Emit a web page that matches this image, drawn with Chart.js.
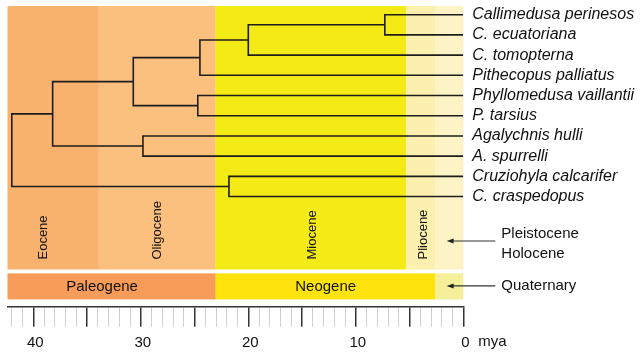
<!DOCTYPE html>
<html>
<head>
<meta charset="utf-8">
<script src="https://cdn.jsdelivr.net/npm/chart.js@4"></script>
<style>
html,body{margin:0;padding:0;background:#fff;}
#wrap{width:641px;height:354px;position:relative;}
</style>
</head>
<body>
<div id="wrap"><canvas id="c" width="641" height="354"></canvas></div>
<script>
// ---- data ----
const taxa = ['Callimedusa perinesos','C. ecuatoriana','C. tomopterna','Pithecopus palliatus','Phyllomedusa vaillantii','P. tarsius','Agalychnis hulli','A. spurrelli','Cruziohyla calcarifer','C. craspedopus'];
// internal nodes (ages in mya) and their two children: tN = taxon N, nN = node N
const nodeAges  = [7.3, 20.0, 24.5, 24.7, 30.7, 29.8, 38.2, 21.8, 42.0];
const nodeLeft  = ['t0','n0','n1','t4','n2','t6','n4','t8','n6'];
const nodeRight = ['t1','t2','t3','t5','n3','t7','n5','t9','n7'];
const epochNames  = ['Eocene','Oligocene','Miocene','Pliocene',''];
const epochStart  = [42.4, 33.9, 23.03, 5.33, 2.58];
const epochEnd    = [33.9, 23.03, 5.33, 2.58, 0];
const periodNames = ['Paleogene','Neogene',''];
const periodStart = [42.4, 23.03, 2.58];
const periodEnd   = [23.03, 2.58, 0];
const tickLabels  = [0, 10, 20, 30, 40];
const axisMax = 42.4;

// ---- styles / layout ----
const epochColors  = ['#F8B26E','#FBC07E','#F4EA16','#FDF0AE','#FEF3C4'];
const periodColors = ['#F89C5A','#FEE40C','#F4EF98'];
const epochLabelAt  = [39.1, 28.5, 14.0, 3.75];
const periodLabelAt = [33.6, 12.8];
const FONT = "'Liberation Sans', Arial, Helvetica, sans-serif";

// tree layout (y = leaf index)
const nodeY = [];
function posOf(id){ const k = +id.slice(1); return id[0]==='t' ? {x:0, y:k} : {x:nodeAges[k], y:nodeY[k]}; }
for (let i=0;i<nodeAges.length;i++){ nodeY[i] = (posOf(nodeLeft[i]).y + posOf(nodeRight[i]).y)/2; }
const datasets = nodeAges.map((age,i)=>{
  const L = posOf(nodeLeft[i]), R = posOf(nodeRight[i]);
  return {data:[{x:L.x,y:L.y},{x:age,y:L.y},{x:age,y:R.y},{x:R.x,y:R.y}],
    showLine:true, borderColor:'#1d1d1d', borderWidth:1.6, pointRadius:0, fill:false, tension:0};
});

const bgPlugin = {
  id:'bg',
  beforeDatasetsDraw(chart){
    const {ctx, scales:{x,y}} = chart;
    const eTop = y.getPixelForValue(-0.43), eBot = y.getPixelForValue(12.61);
    const pTop = y.getPixelForValue(12.80), pBot = y.getPixelForValue(14.09);
    ctx.save();
    epochStart.forEach((s,i)=>{
      const a = x.getPixelForValue(s), b = x.getPixelForValue(epochEnd[i]);
      ctx.fillStyle = epochColors[i]; ctx.fillRect(a, eTop, b-a, eBot-eTop);
    });
    periodStart.forEach((s,i)=>{
      const a = x.getPixelForValue(s), b = x.getPixelForValue(periodEnd[i]);
      ctx.fillStyle = periodColors[i]; ctx.fillRect(a, pTop, b-a, pBot-pTop);
    });
    ctx.fillStyle = '#111';
    ctx.font = '13px ' + FONT;
    ctx.textAlign = 'left'; ctx.textBaseline = 'middle';
    epochNames.forEach((n,i)=>{
      if(!n) return;
      ctx.save();
      ctx.translate(x.getPixelForValue(epochLabelAt[i]), eBot - 10);
      ctx.rotate(-Math.PI/2);
      ctx.fillText(n, 0, 0);
      ctx.restore();
    });
    ctx.font = '15px ' + FONT; ctx.textAlign = 'center';
    const pMid = (pTop+pBot)/2;
    periodNames.forEach((n,i)=>{ if(n) ctx.fillText(n, x.getPixelForValue(periodLabelAt[i]), pMid); });
    ctx.restore();
  },
  afterDatasetsDraw(chart){
    const {ctx, scales:{x,y}} = chart;
    const x0 = x.getPixelForValue(0);
    ctx.save();
    ctx.fillStyle = '#111';
    ctx.font = 'italic 16px ' + FONT;
    ctx.textAlign = 'left'; ctx.textBaseline = 'middle';
    taxa.forEach((t,i)=> ctx.fillText(t, x0 + 9, y.getPixelForValue(i)));
    // annotations
    ctx.font = '15px ' + FONT;
    const tip = x.getPixelForValue(1.55);
    const arrows = [[y.getPixelForValue(11.2)], [y.getPixelForValue(13.42)]];
    arrows.forEach(([ay])=>{
      ctx.strokeStyle = '#333'; ctx.lineWidth = 1.2;
      ctx.beginPath(); ctx.moveTo(tip+5, ay); ctx.lineTo(x0+32, ay); ctx.stroke();
      ctx.fillStyle = '#222';
      ctx.beginPath(); ctx.moveTo(tip, ay); ctx.lineTo(tip+7, ay-2.5); ctx.lineTo(tip+7, ay+2.5); ctx.closePath(); ctx.fill();
    });
    ctx.fillStyle = '#111';
    ctx.fillText('Pleistocene', x0+38, y.getPixelForValue(10.85));
    ctx.fillText('Holocene', x0+38, y.getPixelForValue(11.85));
    ctx.fillText('Quaternary', x0+38, y.getPixelForValue(13.42));
    // unit
    ctx.fillText('mya', x0+15, 342);
    ctx.restore();
  }
};

new Chart(document.getElementById('c'), {
  type:'scatter',
  data:{datasets},
  options:{
    responsive:false, animation:false,
    layout:{padding:{left:7.5, right:177.7, top:6, bottom:0}},
    plugins:{legend:{display:false}, tooltip:{enabled:false}},
    scales:{
      x:{type:'linear', reverse:true, min:0, max:axisMax,
        afterBuildTicks(s){ const t=[]; for(let v=0; v<=42; v++) t.push({value:v}); s.ticks=t; },
        afterFit(s){ s.height = 47.3; },
        border:{display:true, color:'#333', width:1.5},
        grid:{drawOnChartArea:false, drawTicks:true, tickLength:20,
          color:(c)=> (c.tick && c.tick.value % 5 === 0) ? '#333' : '#cfcfcf',
          lineWidth:(c)=> (c.tick && c.tick.value % 5 === 0) ? 1.5 : 1},
        ticks:{autoSkip:false, maxRotation:0, padding:7, labelOffset:2, color:'#111',
          font:{family:FONT, size:15},
          callback:(v)=> tickLabels.includes(v) ? String(v) : ''}
      },
      y:{type:'linear', reverse:true, min:-0.43, max:14.45, display:false}
    }
  },
  plugins:[bgPlugin]
});
</script>
</body>
</html>
